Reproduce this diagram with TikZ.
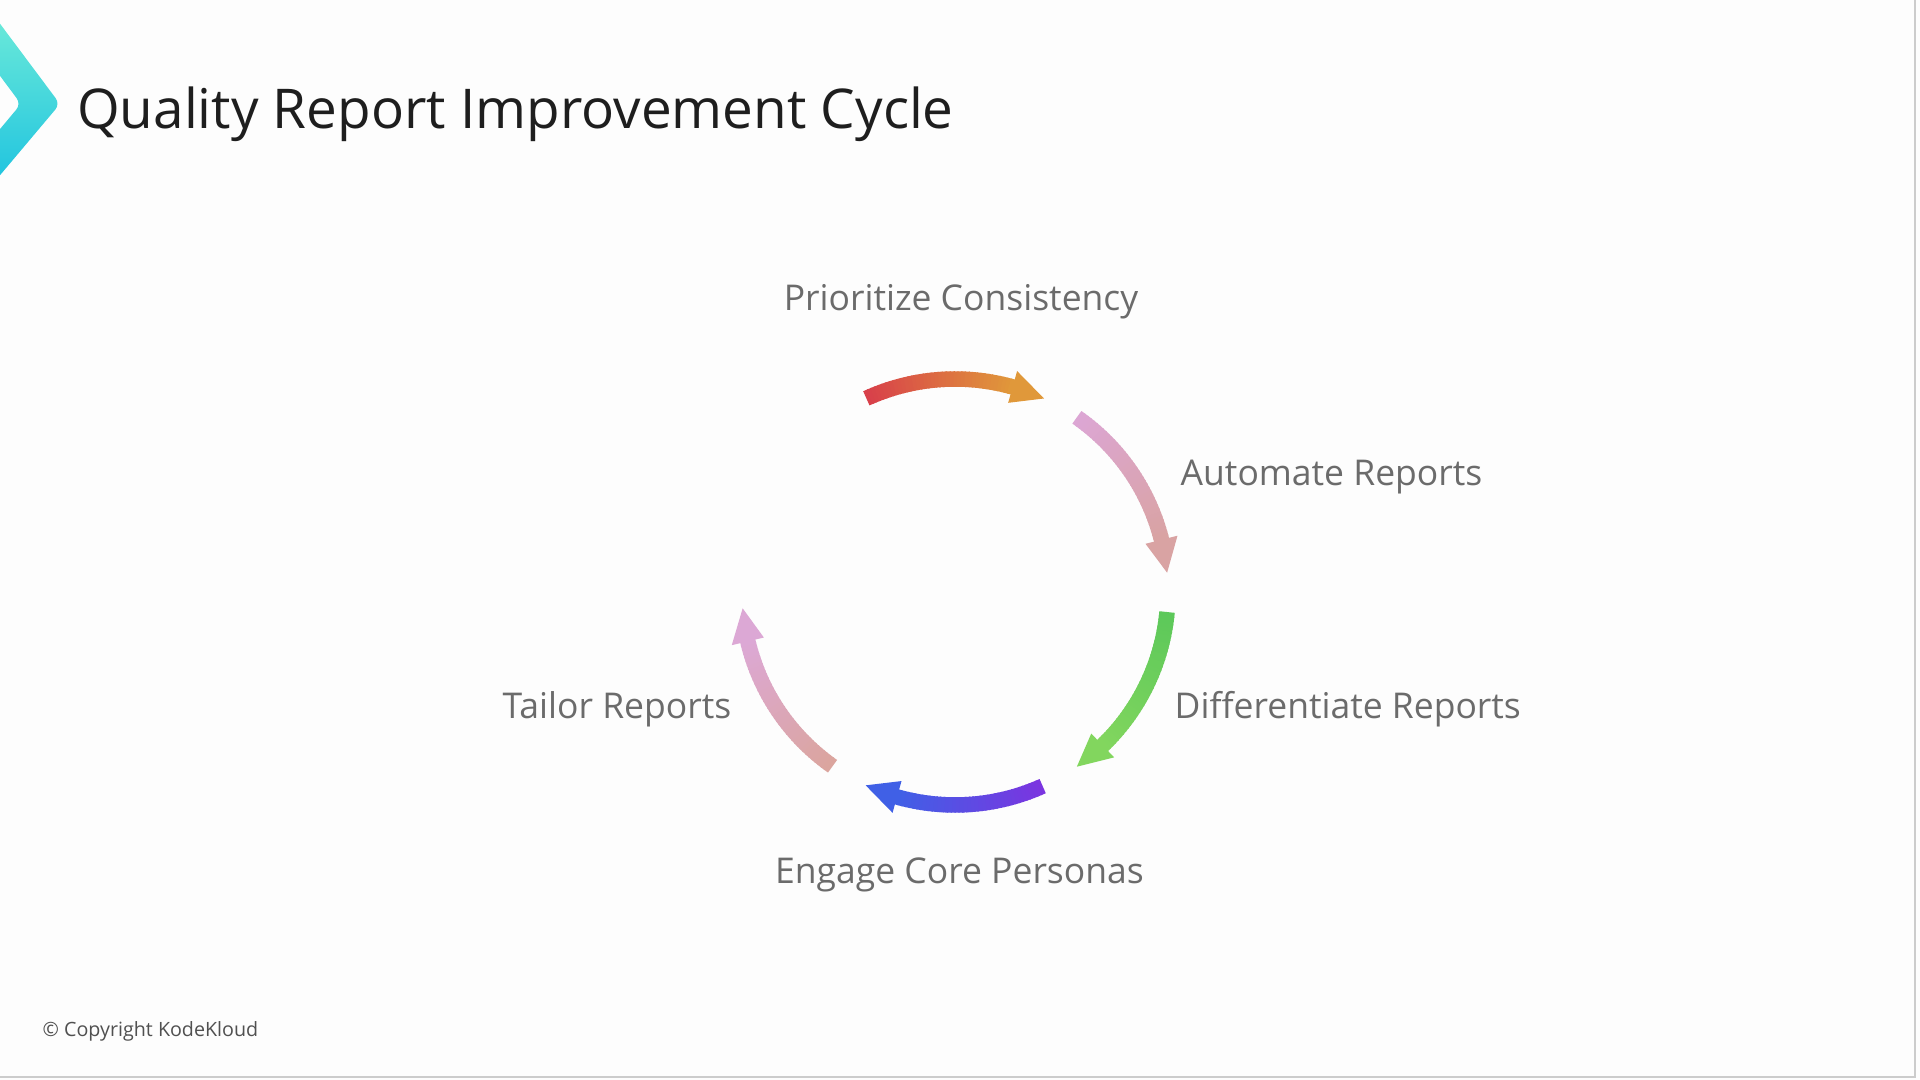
\documentclass[tikz,border=0pt]{standalone}
\usepackage{fontspec}
\setmainfont{Open Sans}
\usepackage{xcolor}
\usepackage{tikz}
\usetikzlibrary{calc}
\definecolor{ink}{HTML}{1E1E1E}
\definecolor{labelgray}{HTML}{6B6B6B}
\definecolor{finegray}{HTML}{505050}
\definecolor{paper}{HTML}{FDFDFD}
\definecolor{edgegray}{HTML}{CCCCCC}
\definecolor{mint}{HTML}{74EED8}
\definecolor{aqua}{HTML}{18C0E0}
\definecolor{redA}{HTML}{D8404A}
\definecolor{orangeB}{HTML}{E0983A}
\definecolor{lilacA}{HTML}{DCA6D4}
\definecolor{roseB}{HTML}{D9A3A3}
\definecolor{greenA}{HTML}{5CC85A}
\definecolor{greenB}{HTML}{82D65E}
\definecolor{violetA}{HTML}{7B35E0}
\definecolor{blueB}{HTML}{4060E6}
\definecolor{roseA}{HTML}{DBA59E}
\definecolor{lilacB}{HTML}{DCA8D5}
\def\cycR{2.13}
\tikzset{
  ttl/.style={font=\fontsize{15.6}{18}\selectfont,text=ink,anchor=base west,inner sep=0pt},
  lbl/.style={font=\fontsize{10.1}{12}\selectfont,text=labelgray,inner sep=0pt},
  note/.style={font=\fontsize{5.6}{7}\selectfont,text=finegray,anchor=base west,inner sep=0pt},
  shaft/.style={line width=1.55mm},
}
% tail angle, tip angle, tail colour, head colour (clockwise)
\newcommand{\cyclearrow}[4]{%
  \pgfmathsetmacro{\headbase}{#2+9}%
  \foreach \k in {0,...,39}{
    \pgfmathsetmacro{\aa}{#1+(\headbase-#1)*\k/40}
    \pgfmathsetmacro{\ab}{#1+(\headbase-#1)*(\k+1.4)/40}
    \pgfmathtruncatemacro{\pct}{100*\k/39}
    \draw[shaft,color=#4!\pct!#3] (ctr) ++(\aa:\cycR) arc[start angle=\aa,end angle=\ab,radius=\cycR];
  }
  \fill[#4] ($(ctr)+(#2:\cycR)$) -- ($(ctr)+(\headbase:\cycR+0.165)$) -- ($(ctr)+(\headbase:\cycR-0.165)$) -- cycle;
}

\begin{document}
\begin{tikzpicture}
\useasboundingbox[fill=paper] (0,0) rectangle (19.2,10.8);
% logo
\begin{scope}
\clip (0,0) rectangle (19.2,10.8);
\shade[top color=mint,bottom color=aqua,rounded corners=2pt] (-0.2,10.83) -- (0.60,9.76) -- (-0.2,8.81) -- (-0.2,9.27) -- (0.21,9.76) -- (-0.2,10.31) -- cycle;
\end{scope}
\draw[edgegray,line width=0.2mm] (19.15,10.8) -- (19.15,0.03) -- (0,0.03);
\node[ttl] (title) at (0.765,9.51) {Quality Report Improvement Cycle};
% cycle
\coordinate (ctr) at (9.55,4.88);
\cyclearrow{114.6}{65.3}{redA}{orangeB}
\cyclearrow{55.1}{5.2}{lilacA}{roseB}
\cyclearrow{-5.4}{-55.1}{greenA}{greenB}
\cyclearrow{-65.7}{-114.8}{violetA}{blueB}
\cyclearrow{-125.1}{-175.6}{roseA}{lilacB}
\node[lbl,anchor=base] (prio) at (9.61,7.69) {Prioritize Consistency};
\node[lbl,anchor=base west] (auto) at (11.80,5.94) {Automate Reports};
\node[lbl,anchor=base west] (diff) at (11.74,3.61) {Differentiate Reports};
\node[lbl,anchor=base] (engage) at (9.595,1.96) {Engage Core Personas};
\node[lbl,anchor=base east] (tailor) at (7.32,3.61) {Tailor Reports};
\node[note] (copy) at (0.42,0.43) {\textcopyright\ Copyright KodeKloud};
\end{tikzpicture}
\end{document}
